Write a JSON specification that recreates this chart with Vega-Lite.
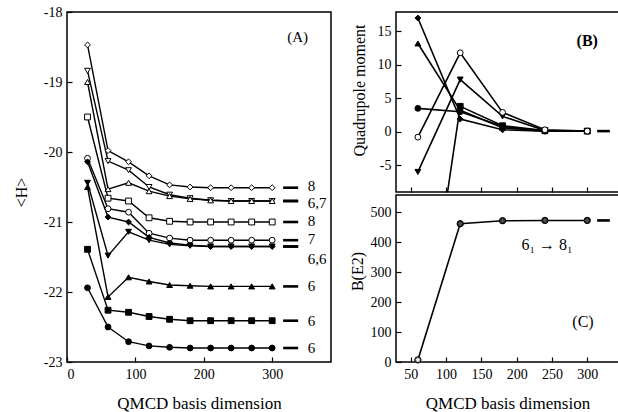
{
  "$schema": "https://vega.github.io/schema/vega-lite/v6.json",
  "bounds": "flush",
  "padding": {"left": 12, "top": 4, "right": 0, "bottom": 0},
  "background": "white",
  "config": {
    "font": "Liberation Serif",
    "view": {"stroke": "black", "strokeWidth": 1.5, "fill": null},
    "axis": {
      "grid": false,
      "domain": false,
      "ticks": true,
      "tickColor": "black",
      "tickSize": 5,
      "offset": -5,
      "tickWidth": 1.2,
      "labelColor": "black",
      "labelFont": "Liberation Serif",
      "labelFontSize": 14,
      "labelPadding": 5,
      "titleFont": "Liberation Serif",
      "titleFontSize": 17,
      "titleFontWeight": "normal",
      "titleColor": "black"
    },
    "text": {"font": "Liberation Serif", "color": "black"}
  },
  "datasets": {
    "energies": [
      {"state": "8_2", "dim": 30, "H": -18.47}, {"state": "8_2", "dim": 60, "H": -19.98}, {"state": "8_2", "dim": 90, "H": -20.14}, {"state": "8_2", "dim": 120, "H": -20.34}, {"state": "8_2", "dim": 150, "H": -20.47}, {"state": "8_2", "dim": 180, "H": -20.5}, {"state": "8_2", "dim": 210, "H": -20.51}, {"state": "8_2", "dim": 240, "H": -20.51}, {"state": "8_2", "dim": 270, "H": -20.51}, {"state": "8_2", "dim": 300, "H": -20.51},
      {"state": "6_6", "dim": 30, "H": -18.84}, {"state": "6_6", "dim": 60, "H": -20.13}, {"state": "6_6", "dim": 90, "H": -20.26}, {"state": "6_6", "dim": 120, "H": -20.5}, {"state": "6_6", "dim": 150, "H": -20.61}, {"state": "6_6", "dim": 180, "H": -20.66}, {"state": "6_6", "dim": 210, "H": -20.69}, {"state": "6_6", "dim": 240, "H": -20.7}, {"state": "6_6", "dim": 270, "H": -20.7}, {"state": "6_6", "dim": 300, "H": -20.7},
      {"state": "7_2", "dim": 30, "H": -19.0}, {"state": "7_2", "dim": 60, "H": -20.53}, {"state": "7_2", "dim": 90, "H": -20.44}, {"state": "7_2", "dim": 120, "H": -20.56}, {"state": "7_2", "dim": 150, "H": -20.63}, {"state": "7_2", "dim": 180, "H": -20.67}, {"state": "7_2", "dim": 210, "H": -20.69}, {"state": "7_2", "dim": 240, "H": -20.7}, {"state": "7_2", "dim": 270, "H": -20.7}, {"state": "7_2", "dim": 300, "H": -20.7},
      {"state": "8_1", "dim": 30, "H": -19.5}, {"state": "8_1", "dim": 60, "H": -20.66}, {"state": "8_1", "dim": 90, "H": -20.7}, {"state": "8_1", "dim": 120, "H": -20.94}, {"state": "8_1", "dim": 150, "H": -20.99}, {"state": "8_1", "dim": 180, "H": -21.0}, {"state": "8_1", "dim": 210, "H": -21.0}, {"state": "8_1", "dim": 240, "H": -21.0}, {"state": "8_1", "dim": 270, "H": -21.0}, {"state": "8_1", "dim": 300, "H": -21.0},
      {"state": "7_1", "dim": 30, "H": -20.09}, {"state": "7_1", "dim": 60, "H": -20.81}, {"state": "7_1", "dim": 90, "H": -20.86}, {"state": "7_1", "dim": 120, "H": -21.16}, {"state": "7_1", "dim": 150, "H": -21.23}, {"state": "7_1", "dim": 180, "H": -21.26}, {"state": "7_1", "dim": 210, "H": -21.26}, {"state": "7_1", "dim": 240, "H": -21.26}, {"state": "7_1", "dim": 270, "H": -21.26}, {"state": "7_1", "dim": 300, "H": -21.26},
      {"state": "6_4", "dim": 30, "H": -20.14}, {"state": "6_4", "dim": 60, "H": -20.93}, {"state": "6_4", "dim": 90, "H": -21.0}, {"state": "6_4", "dim": 120, "H": -21.22}, {"state": "6_4", "dim": 150, "H": -21.3}, {"state": "6_4", "dim": 180, "H": -21.33}, {"state": "6_4", "dim": 210, "H": -21.35}, {"state": "6_4", "dim": 240, "H": -21.35}, {"state": "6_4", "dim": 270, "H": -21.35}, {"state": "6_4", "dim": 300, "H": -21.35},
      {"state": "6_5", "dim": 30, "H": -20.44}, {"state": "6_5", "dim": 60, "H": -21.48}, {"state": "6_5", "dim": 90, "H": -21.14}, {"state": "6_5", "dim": 120, "H": -21.26}, {"state": "6_5", "dim": 150, "H": -21.32}, {"state": "6_5", "dim": 180, "H": -21.34}, {"state": "6_5", "dim": 210, "H": -21.35}, {"state": "6_5", "dim": 240, "H": -21.35}, {"state": "6_5", "dim": 270, "H": -21.35}, {"state": "6_5", "dim": 300, "H": -21.35},
      {"state": "6_3", "dim": 30, "H": -20.5}, {"state": "6_3", "dim": 60, "H": -22.07}, {"state": "6_3", "dim": 90, "H": -21.79}, {"state": "6_3", "dim": 120, "H": -21.85}, {"state": "6_3", "dim": 150, "H": -21.9}, {"state": "6_3", "dim": 180, "H": -21.91}, {"state": "6_3", "dim": 210, "H": -21.92}, {"state": "6_3", "dim": 240, "H": -21.92}, {"state": "6_3", "dim": 270, "H": -21.92}, {"state": "6_3", "dim": 300, "H": -21.92},
      {"state": "6_2", "dim": 30, "H": -21.39}, {"state": "6_2", "dim": 60, "H": -22.26}, {"state": "6_2", "dim": 90, "H": -22.29}, {"state": "6_2", "dim": 120, "H": -22.35}, {"state": "6_2", "dim": 150, "H": -22.39}, {"state": "6_2", "dim": 180, "H": -22.41}, {"state": "6_2", "dim": 210, "H": -22.41}, {"state": "6_2", "dim": 240, "H": -22.41}, {"state": "6_2", "dim": 270, "H": -22.41}, {"state": "6_2", "dim": 300, "H": -22.41},
      {"state": "6_1", "dim": 30, "H": -21.94}, {"state": "6_1", "dim": 60, "H": -22.5}, {"state": "6_1", "dim": 90, "H": -22.71}, {"state": "6_1", "dim": 120, "H": -22.77}, {"state": "6_1", "dim": 150, "H": -22.79}, {"state": "6_1", "dim": 180, "H": -22.8}, {"state": "6_1", "dim": 210, "H": -22.8}, {"state": "6_1", "dim": 240, "H": -22.8}, {"state": "6_1", "dim": 270, "H": -22.8}, {"state": "6_1", "dim": 300, "H": -22.8}
    ],
    "spinLabels": [
      {"label": "8", "dim": 352, "H": -20.48},
      {"label": "6,7", "dim": 352, "H": -20.73},
      {"label": "8", "dim": 352, "H": -20.99},
      {"label": "7", "dim": 352, "H": -21.24},
      {"label": "6,6", "dim": 352, "H": -21.53},
      {"label": "6", "dim": 352, "H": -21.91},
      {"label": "6", "dim": 352, "H": -22.41},
      {"label": "6", "dim": 352, "H": -22.8},
      {"label": "(A)", "dim": 322, "H": -18.36}
    ],
    "quadrupole": [
      {"state": "6_4", "dim": 60, "Q": 17.0}, {"state": "6_4", "dim": 120, "Q": 1.9}, {"state": "6_4", "dim": 180, "Q": 0.3}, {"state": "6_4", "dim": 240, "Q": 0.1}, {"state": "6_4", "dim": 300, "Q": 0.1},
      {"state": "6_3", "dim": 60, "Q": 13.2}, {"state": "6_3", "dim": 120, "Q": 3.2}, {"state": "6_3", "dim": 180, "Q": 0.6}, {"state": "6_3", "dim": 240, "Q": 0.1}, {"state": "6_3", "dim": 300, "Q": 0.1},
      {"state": "6_1", "dim": 60, "Q": 3.5}, {"state": "6_1", "dim": 120, "Q": 3.0}, {"state": "6_1", "dim": 180, "Q": 0.8}, {"state": "6_1", "dim": 240, "Q": 0.1}, {"state": "6_1", "dim": 300, "Q": 0.1},
      {"state": "6_2", "dim": 60, "Q": -39.0}, {"state": "6_2", "dim": 120, "Q": 3.8}, {"state": "6_2", "dim": 180, "Q": 0.9}, {"state": "6_2", "dim": 240, "Q": 0.2}, {"state": "6_2", "dim": 300, "Q": 0.1},
      {"state": "6_5", "dim": 60, "Q": -6.0}, {"state": "6_5", "dim": 120, "Q": 7.8}, {"state": "6_5", "dim": 180, "Q": 2.3}, {"state": "6_5", "dim": 240, "Q": 0.2}, {"state": "6_5", "dim": 300, "Q": 0.1},
      {"state": "7_1", "dim": 60, "Q": -0.8}, {"state": "7_1", "dim": 120, "Q": 11.8}, {"state": "7_1", "dim": 180, "Q": 2.9}, {"state": "7_1", "dim": 240, "Q": 0.3}, {"state": "7_1", "dim": 300, "Q": 0.1}
    ],
    "be2": [
      {"transition": "6_1 -> 8_1", "dim": 60, "BE2": 7},
      {"transition": "6_1 -> 8_1", "dim": 120, "BE2": 462},
      {"transition": "6_1 -> 8_1", "dim": 180, "BE2": 472},
      {"transition": "6_1 -> 8_1", "dim": 240, "BE2": 473},
      {"transition": "6_1 -> 8_1", "dim": 300, "BE2": 473}
    ]
  },
  "spacing": 65,
  "hconcat": [
    {
      "width": 264,
      "height": 350,
      "data": {"name": "energies"},
      "encoding": {
        "x": {"field": "dim", "type": "quantitative", "scale": {"domain": [0, 386], "nice": false, "zero": false},
              "axis": {"values": [0, 100, 200, 300], "title": "QMCD basis dimension", "titlePadding": 14}},
        "y": {"field": "H", "type": "quantitative", "scale": {"domain": [-23, -18], "nice": false, "zero": false},
              "axis": {"values": [-23, -22, -21, -20, -19, -18], "labelExpr": "'' + datum.value", "title": "<H>", "titleFontSize": 16, "titlePadding": 14, "titleY": 180}}
      },
      "layer": [
        {
          "mark": {"type": "line", "color": "black", "strokeWidth": 1.4},
          "encoding": {"detail": {"field": "state"}}
        },
        {
          "mark": {"type": "point", "filled": true, "stroke": "black", "strokeWidth": 1, "size": 34, "opacity": 1},
          "encoding": {
            "shape": {"field": "state", "legend": null,
                      "scale": {"domain": ["6_1", "6_2", "6_3", "6_4", "6_5", "7_1", "8_1", "6_6", "7_2", "8_2"],
                                "range": ["circle", "square", "triangle-up", "diamond", "triangle-down", "circle", "square", "triangle-down", "triangle-up", "diamond"]}},
            "fill": {"field": "state", "legend": null,
                     "scale": {"domain": ["6_1", "6_2", "6_3", "6_4", "6_5", "7_1", "8_1", "6_6", "7_2", "8_2"],
                               "range": ["black", "black", "black", "black", "black", "white", "white", "white", "white", "white"]}}
          }
        },
        {
          "transform": [{"filter": "datum.dim === 300"}],
          "mark": {"type": "rule", "color": "black", "strokeWidth": 2.6},
          "encoding": {"x": {"datum": 316, "type": "quantitative"}, "x2": {"datum": 338}, "y": {"field": "H", "type": "quantitative"}}
        },
        {
          "data": {"name": "spinLabels"},
          "mark": {"type": "text", "align": "left", "baseline": "middle", "fontSize": 15},
          "encoding": {"text": {"field": "label", "type": "nominal"}}
        }
      ]
    },
    {
      "bounds": "flush",
      "spacing": 3,
      "vconcat": [
        {
          "width": 223,
          "height": 180,
          "data": {"name": "quadrupole"},
          "encoding": {
            "x": {"field": "dim", "type": "quantitative", "scale": {"domain": [29, 345], "nice": false, "zero": false},
                  "axis": {"values": [50, 100, 150, 200, 250, 300], "labels": false, "title": null}},
            "y": {"field": "Q", "type": "quantitative", "scale": {"domain": [-9, 17.9], "nice": false, "zero": false},
                  "axis": {"values": [-5, 0, 5, 10, 15], "labelExpr": "'' + datum.value", "title": "Quadrupole moment", "titleFontSize": 16, "titlePadding": 10, "titleY": 78}}
          },
          "layer": [
            {
              "mark": {"type": "line", "color": "black", "strokeWidth": 1.6, "clip": true},
              "encoding": {"detail": {"field": "state"}}
            },
            {
              "mark": {"type": "point", "filled": true, "stroke": "black", "strokeWidth": 1, "size": 34, "opacity": 1, "clip": true},
              "encoding": {
                "shape": {"field": "state", "legend": null,
                          "scale": {"domain": ["6_1", "6_2", "6_3", "6_4", "6_5", "7_1"],
                                    "range": ["circle", "square", "triangle-up", "diamond", "triangle-down", "circle"]}},
                "fill": {"field": "state", "legend": null,
                         "scale": {"domain": ["6_1", "6_2", "6_3", "6_4", "6_5", "7_1"],
                                   "range": ["black", "black", "black", "black", "black", "white"]}}
              }
            },
            {
              "transform": [{"filter": "datum.dim === 300 && datum.state === '7_1'"}],
              "mark": {"type": "rule", "color": "black", "strokeWidth": 2.6},
              "encoding": {"x": {"datum": 314, "type": "quantitative"}, "x2": {"datum": 332}, "y": {"field": "Q", "type": "quantitative"}}
            },
            {
              "data": {"values": [{"panel": "(B)", "dim": 300, "Q": 13.6}]},
              "mark": {"type": "text", "align": "center", "baseline": "middle", "fontSize": 16, "fontWeight": "bold"},
              "encoding": {"text": {"field": "panel", "type": "nominal"}}
            }
          ]
        },
        {
          "width": 223,
          "height": 167,
          "data": {"name": "be2"},
          "encoding": {
            "x": {"field": "dim", "type": "quantitative", "scale": {"domain": [29, 345], "nice": false, "zero": false},
                  "axis": {"values": [50, 100, 150, 200, 250, 300], "title": "QMCD basis dimension", "titlePadding": 14}},
            "y": {"field": "BE2", "type": "quantitative", "scale": {"domain": [0, 558], "nice": false, "zero": false},
                  "axis": {"values": [0, 100, 200, 300, 400, 500], "title": "B(E2)", "titleFontSize": 16, "titlePadding": 5, "titleY": 76}}
          },
          "layer": [
            {
              "mark": {"type": "line", "color": "black", "strokeWidth": 1.6},
              "encoding": {}
            },
            {
              "transform": [{"filter": "datum.dim > 60"}],
              "mark": {"type": "point", "shape": "circle", "filled": true, "fill": "#555555", "stroke": "black", "strokeWidth": 1, "size": 40, "opacity": 1},
              "encoding": {}
            },
            {
              "transform": [{"filter": "datum.dim === 60"}],
              "mark": {"type": "point", "shape": "circle", "filled": true, "fill": "white", "stroke": "black", "strokeWidth": 1, "size": 40, "opacity": 1},
              "encoding": {}
            },
            {
              "mark": {"type": "point", "shape": "cross", "filled": false, "stroke": "black", "strokeWidth": 0.6, "size": 30, "opacity": 1},
              "encoding": {}
            },
            {
              "transform": [{"filter": "datum.dim === 300"}],
              "mark": {"type": "rule", "color": "black", "strokeWidth": 2.6},
              "encoding": {"x": {"datum": 314, "type": "quantitative"}, "x2": {"datum": 332}, "y": {"field": "BE2", "type": "quantitative"}}
            },
            {
              "data": {"values": [{"panel": "(C)", "dim": 294, "BE2": 133}, {"panel": "6₁ → 8₁", "dim": 243, "BE2": 391}]},
              "mark": {"type": "text", "align": "center", "baseline": "middle", "fontSize": 16},
              "encoding": {"text": {"field": "panel", "type": "nominal"}}
            }
          ]
        }
      ]
    }
  ]
}
